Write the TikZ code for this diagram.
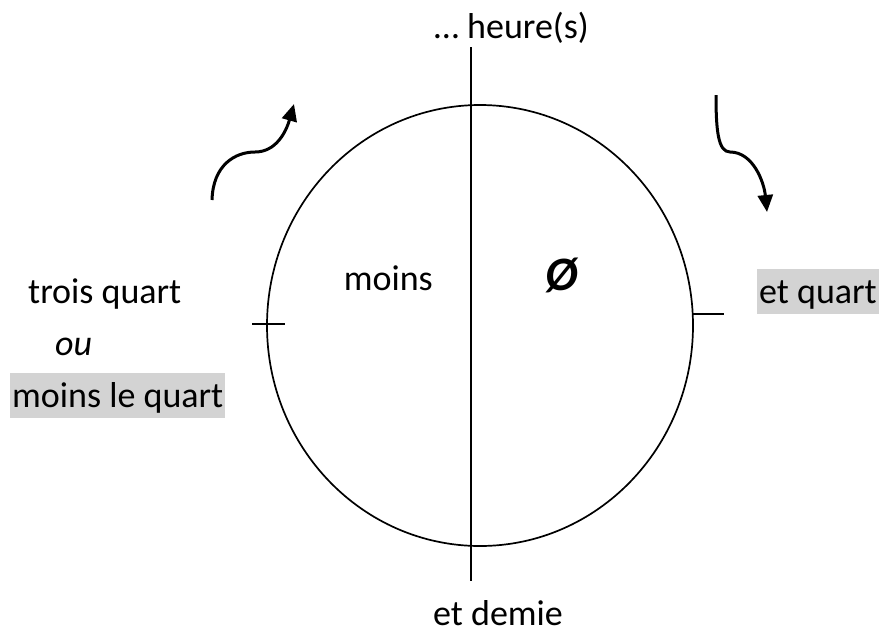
\documentclass[tikz,border=0pt]{standalone}
\usepackage{fontspec}
\setmainfont{Carlito}
\usetikzlibrary{arrows.meta, shapes.geometric}
\definecolor{surligne}{HTML}{D3D3D3}

\begin{document}
\begin{tikzpicture}[
    x=1pt, y=-1pt,
    texte/.style={font=\fontsize{36}{43}\selectfont, inner sep=0pt},
    marque/.style={fill=surligne, text height=34pt, text depth=11pt, inner xsep=2pt},
    fleche/.style={line width=3pt, -{Triangle[length=17pt, width=15pt]}},
    trait/.style={line width=1.7pt}
]
\useasboundingbox (0,0) rectangle (883,633);

% le cadran
\node[draw, ellipse, trait, minimum width=426pt, minimum height=441pt, inner sep=0pt] (cadran) at (480,325.5) {};
\coordinate (haut) at (471,47);
\coordinate (bas) at (471,581);
\draw[trait] (haut) -- (bas);

% les graduations
\coordinate (g1) at (252,324);
\coordinate (g2) at (285,324);
\coordinate (d1) at (693,314);
\coordinate (d2) at (724,314);
\draw[trait] (g1) -- (g2);
\draw[trait] (d1) -- (d2);

% le sens
\coordinate (a1) at (212,200);
\coordinate (a2) at (294,104);
\coordinate (b1) at (716,95);
\coordinate (b2) at (767,212);
\draw[fleche] (a1) .. controls (213,165) and (235,152) .. (255,152) .. controls (276,152) and (286,132) .. (a2);
\draw[fleche] (b1) .. controls (716,130) and (718,152) .. (730,152) .. controls (753,152) and (764,182) .. (b2);

\node[texte, anchor=base west] (heures) at (434,38) {… heure(s)};
\node[texte, anchor=base east] (moins) at (433,290) {moins};
\node[texte, anchor=base west, font=\fontsize{48}{56}\selectfont\bfseries\itshape] (vide) at (545,290) {Ø};
\node[texte, anchor=base west] (troisquart) at (28,303) {trois quart};
\node[texte, anchor=base west] (ou) at (55,355) {\itshape ou};
\node[texte, marque, anchor=base west] (moinsquart) at (10,407) {moins le quart};
\node[texte, marque, anchor=base west] (etquart) at (757,303) {et quart};
\node[texte, anchor=base west] (demie) at (433,625) {et demie};
\end{tikzpicture}
\end{document}
